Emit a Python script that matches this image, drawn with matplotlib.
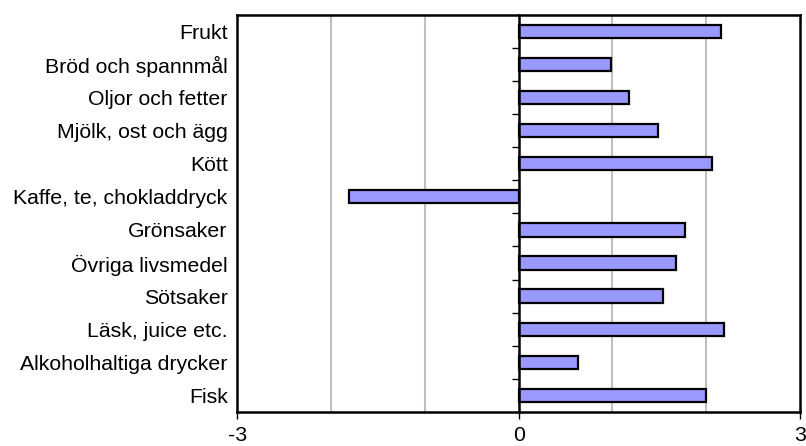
import numpy as np
import matplotlib.pyplot as plt

plt.rcParams["font.family"] = ["Liberation Sans", "DejaVu Sans"]

# kategorier uppifrån och ned
kategorier = ["Frukt", "Bröd och spannmål", "Oljor och fetter", "Mjölk, ost och ägg",
              "Kött", "Kaffe, te, chokladdryck", "Grönsaker", "Övriga livsmedel",
              "Sötsaker", "Läsk, juice etc.", "Alkoholhaltiga drycker", "Fisk"]
varden = [2.16, 0.99, 1.18, 1.49, 2.06, -1.81, 1.77, 1.68, 1.54, 2.19, 0.63, 2.00]
xticks = [-3, 0, 3]
xgrid = [-2, -1, 1, 2]

fig = plt.figure(figsize=(8.06, 4.46), dpi=100)
ax = fig.add_axes([0.2945, 0.0762, 0.698, 0.891])

y = np.arange(len(kategorier))
ax.barh(y, varden, height=0.4, color="#9999FF", edgecolor="black", linewidth=1.6, zorder=3)

ax.set_xlim(-3, 3)
ax.set_ylim(len(kategorier) - 0.5, -0.5)
ax.set_xticks(xticks)
ax.set_xticklabels([str(v) for v in xticks])
ax.set_xticks(xgrid, minor=True)
ax.grid(True, which="minor", axis="x", color="#BFBFBF", linewidth=1.5, zorder=0)
ax.tick_params(axis="x", which="major", length=5, width=1, direction="out", pad=5, labelsize=15.3)
ax.tick_params(axis="x", which="minor", length=0)

ax.set_yticks(y)
ax.set_yticklabels(kategorier)
ax.tick_params(axis="y", length=0, pad=7, labelsize=15.3)

for s in ax.spines.values():
    s.set_linewidth(1.8)

# kategoriaxeln ligger vid x = 0
ax2 = ax.twinx()
ax2.set_ylim(ax.get_ylim())
ax2.spines["right"].set_position(("data", 0))
for side in ["left", "top", "bottom"]:
    ax2.spines[side].set_visible(False)
ax2.spines["right"].set_linewidth(1.8)
ax2.set_yticks(y[:-1] + 0.5)
ax2.set_yticklabels([])
ax2.tick_params(axis="y", direction="in", length=5, width=1)

fig.savefig("out.png", dpi=100)
